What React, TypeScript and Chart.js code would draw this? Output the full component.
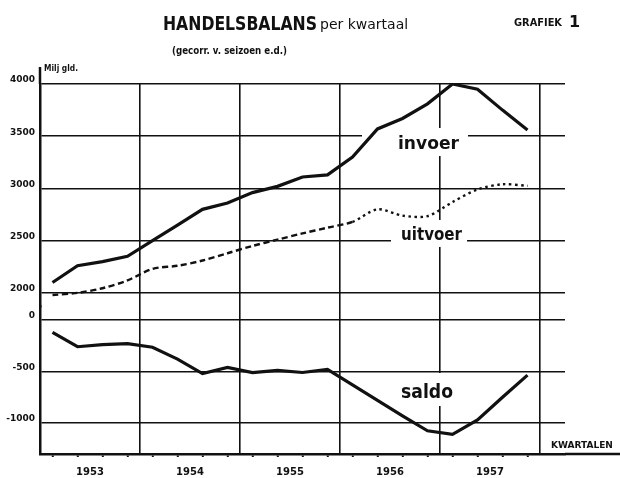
import React, { useEffect, useRef } from 'react';
import { Chart, registerables } from 'chart.js';

Chart.register(...registerables);

const FONT = '"DejaVu Sans", "Noto Sans", sans-serif';
const INK = '#111111';

// categories: quarters 1953-1957
const quarters = [
  '1953-I', '1953-II', '1953-III', '1953-IV',
  '1954-I', '1954-II', '1954-III', '1954-IV',
  '1955-I', '1955-II', '1955-III', '1955-IV',
  '1956-I', '1956-II', '1956-III', '1956-IV',
  '1957-I', '1957-II', '1957-III', '1957-IV',
];
const yearLabels = ['1953', '1954', '1955', '1956', '1957'];

// series values (milj. gld.)
const invoer = [2100, 2260, 2300, 2350, 2500, 2650, 2800, 2860, 2960, 3020, 3110, 3130, 3300, 3570, 3670, 3810, 4000, 3950, 3750, 3560];
const uitvoer = [1980, 2000, 2045, 2120, 2230, 2260, 2310, 2380, 2450, 2510, 2570, 2625, 2680, 2800, 2740, 2735, 2870, 2990, 3040, 3025];
const saldo = [-120, -260, -240, -230, -265, -380, -520, -460, -510, -490, -510, -480, -630, -780, -930, -1075, -1110, -970, -750, -535];

// tick labels
const upperTicks = [2000, 2500, 3000, 3500, 4000];
const lowerTicks = [0, -500, -1000];

// series name labels placed in data coordinates
const seriesLabels = [
  { text: 'invoer', x: 14.32, y: 3378, axis: 'y', size: 18, maxW: 61, asc: 14, mask: [36, 7, 9, 7] },
  { text: 'uitvoer', x: 14.44, y: 2507, axis: 'y', size: 18, maxW: 61, asc: 14, mask: [10, 6, 5, 7] },
  { text: 'saldo', x: 14.44, y: -757, axis: 'y2', size: 19, maxW: 52, asc: 16, mask: [6, 9, 7, 8] },
];

const toPoints = (arr: number[]) => arr.map((v, i) => ({ x: i + 0.5, y: v, q: quarters[i] }));

const decorPlugin = {
  id: 'decor',
  beforeDatasetsDraw(chart: any) {
    const { ctx, scales } = chart;
    ctx.save();
    for (const lab of seriesLabels) {
      ctx.font = `bold ${lab.size}px ${FONT}`;
      const x = scales.x.getPixelForValue(lab.x);
      const y = scales[lab.axis].getPixelForValue(lab.y);
      const w = Math.min(ctx.measureText(lab.text).width, lab.maxW);
      const [l, t, r, b] = lab.mask;
      ctx.fillStyle = '#ffffff';
      ctx.fillRect(x - l, y - lab.asc - t, w + l + r, lab.asc + t + b);
      ctx.fillStyle = INK;
      ctx.textBaseline = 'alphabetic';
      ctx.textAlign = 'left';
      ctx.fillText(lab.text, x, y, lab.maxW);
    }
    ctx.restore();
  },
  afterDraw(chart: any) {
    const { ctx, chartArea } = chart;
    ctx.save();
    ctx.strokeStyle = INK;
    ctx.lineWidth = 2.5;
    ctx.beginPath();
    ctx.moveTo(chartArea.left, chartArea.top);
    ctx.lineTo(chartArea.left, chartArea.top - 17);
    ctx.moveTo(chartArea.right, chartArea.bottom);
    ctx.lineTo(chart.width, chartArea.bottom);
    ctx.stroke();

    ctx.fillStyle = INK;
    ctx.textBaseline = 'alphabetic';
    ctx.textAlign = 'left';
    ctx.font = `bold 20px ${FONT}`;
    ctx.fillText('HANDELSBALANS', 163, 30, 154);
    ctx.font = `14px ${FONT}`;
    ctx.fillText('per kwartaal', 320, 29, 97);
    ctx.font = `bold 11px ${FONT}`;
    ctx.fillText('(gecorr. v. seizoen e.d.)', 172, 54, 115);
    ctx.font = `bold 10px ${FONT}`;
    ctx.fillText('GRAFIEK', 514, 26, 48);
    ctx.font = `bold 16px ${FONT}`;
    ctx.fillText('1', 569, 27);
    ctx.font = `bold 9px ${FONT}`;
    ctx.fillText('Milj gld.', 44, 71, 34);
    ctx.fillText('KWARTALEN', 551, 448, 66);
    ctx.restore();
  },
};

export default function App() {
  const ref = useRef<HTMLCanvasElement | null>(null);

  useEffect(() => {
    if (!ref.current) return;
    const tickFont = { family: FONT, size: 9, weight: 'bold' as const };
    const chart = new Chart(ref.current, {
      type: 'line',
      data: {
        datasets: [
          {
            label: 'invoer',
            data: toPoints(invoer),
            yAxisID: 'y',
            borderColor: INK,
            borderWidth: 3.2,
            pointRadius: 0,
            tension: 0,
            fill: false,
          },
          {
            label: 'uitvoer',
            data: toPoints(uitvoer),
            yAxisID: 'y',
            borderColor: INK,
            borderWidth: 2.4,
            pointRadius: 0,
            tension: 0.3,
            fill: false,
            segment: {
              borderDash: (c: any) => (c.p0DataIndex >= 12 ? [2.5, 3.5] : [6, 3.5]),
            },
          },
          {
            label: 'saldo',
            data: toPoints(saldo),
            yAxisID: 'y2',
            borderColor: INK,
            borderWidth: 3.2,
            pointRadius: 0,
            tension: 0,
            fill: false,
          },
        ] as any,
      },
      options: {
        responsive: false,
        animation: false,
        devicePixelRatio: 1,
        parsing: { xAxisKey: 'x', yAxisKey: 'y' },
        layout: { padding: { top: 84, right: 55, left: 0, bottom: 0 } },
        plugins: {
          legend: { display: false },
          tooltip: { enabled: false },
          title: { display: false },
        },
        scales: {
          x: {
            type: 'linear',
            position: 'bottom',
            min: 0,
            max: 21,
            afterBuildTicks: (s: any) => {
              const t: any[] = [];
              for (let v = 0; v <= 21; v += 0.5) t.push({ value: v });
              s.ticks = t;
            },
            afterFit: (s: any) => {
              s.height = 24;
            },
            grid: {
              color: (c: any) =>
                c.tick && c.tick.value % 4 === 0 && c.tick.value <= 20 ? INK : 'rgba(0,0,0,0)',
              lineWidth: 1.6,
              drawTicks: true,
              tickLength: 3,
              tickWidth: 2,
              tickColor: (c: any) => (c.tick && c.tick.value % 1 === 0.5 && c.tick.value < 20 ? INK : 'rgba(0,0,0,0)'),
            },
            border: { color: INK, width: 2.5 },
            ticks: {
              autoSkip: false,
              maxRotation: 0,
              padding: 9,
              color: INK,
              font: { family: FONT, size: 10, weight: 'bold' },
              callback: (v: any) => {
                const n = Number(v);
                if (n % 4 === 2) {
                  const k = (n - 2) / 4;
                  return yearLabels[k] ?? '';
                }
                return '';
              },
            },
          },
          y2: {
            type: 'linear',
            position: 'left',
            stack: 'balans',
            stackWeight: 147.5,
            weight: 0,
            min: -1300,
            max: 130,
            afterBuildTicks: (s: any) => {
              s.ticks = lowerTicks.map((v) => ({ value: v }));
            },
            afterFit: (s: any) => {
              s.width = 40;
            },
            grid: { color: INK, lineWidth: 1.6, drawTicks: false },
            border: { color: INK, width: 2.5 },
            ticks: {
              padding: 5,
              labelOffset: -4,
              color: INK,
              font: tickFont,
              callback: (v: any) => (Number(v) === 0 ? '0' : '-' + Math.abs(Number(v))),
            },
          },
          y: {
            type: 'linear',
            position: 'left',
            stack: 'balans',
            stackWeight: 222.5,
            weight: 1,
            min: 1870,
            max: 4000,
            afterBuildTicks: (s: any) => {
              s.ticks = upperTicks.map((v) => ({ value: v }));
            },
            afterFit: (s: any) => {
              s.width = 40;
            },
            grid: { color: INK, lineWidth: 1.6, drawTicks: false },
            border: { color: INK, width: 2.5 },
            ticks: {
              padding: 5,
              labelOffset: -4,
              color: INK,
              font: tickFont,
              callback: (v: any) => String(v),
            },
          },
        } as any,
      },
      plugins: [decorPlugin],
    });
    return () => chart.destroy();
  }, []);

  return (
    <div style={{ position: 'absolute', left: 0, top: 0, width: 620, height: 478, background: '#ffffff' }}>
      <canvas ref={ref} width={620} height={478} style={{ display: 'block', width: 620, height: 478 }} />
    </div>
  );
}
